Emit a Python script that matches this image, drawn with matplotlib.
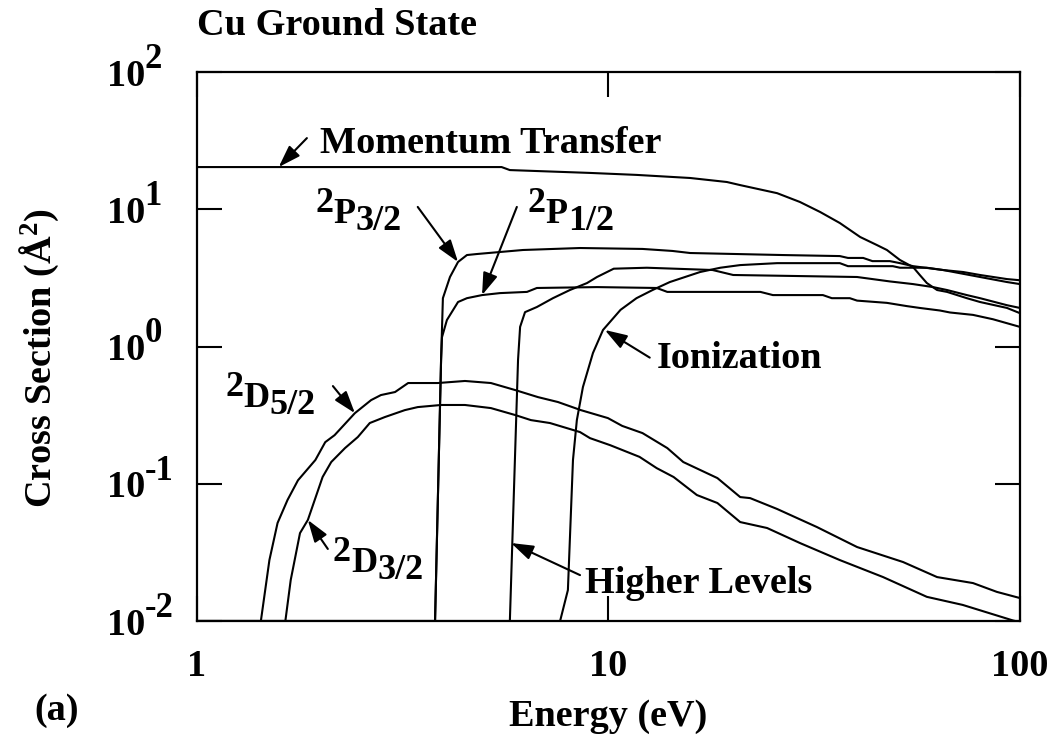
import matplotlib
matplotlib.use('Agg')
import matplotlib.pyplot as plt
from matplotlib.ticker import NullLocator
from matplotlib.transforms import offset_copy, blended_transform_factory

# electron impact cross sections, Cu ground state (energy in eV, cross section in A^2)
mt_e = [1.0, 5.5, 5.76, 9.02, 11.7, 15.8, 19.4, 20.9, 25.7, 29.2, 32.7, 36.5, 40.9, 44.9,
        47.5, 51.1, 55.0, 57.1, 59.4, 62.9, 66.5, 74.3, 80.0, 93.0, 100]
mt_s = [20.3, 20.3, 19.3, 18.4, 17.8, 16.9, 15.8, 15.0, 13.1, 11.3, 9.55, 7.94, 6.28, 5.49,
        5.05, 4.27, 3.79, 3.32, 2.90, 2.58, 2.50, 2.25, 2.11, 1.91, 1.75]

p32_e = [1.0, 3.79, 3.92, 3.96, 4.12, 4.31, 4.53, 4.79, 6.20, 8.53, 12.1, 14.3, 15.8, 26.5,
         36.5, 38.2, 41.6, 43.8, 48.3, 51.1, 55.0, 65.0, 80.0, 93.0, 100]
p32_s = [0.01, 0.01, 0.80, 2.25, 3.21, 4.13, 4.64, 4.72, 5.05, 5.22, 5.14, 4.97, 4.80, 4.64,
         4.56, 4.42, 4.42, 4.19, 4.19, 4.05, 3.85, 3.61, 3.21, 2.95, 2.85]

p12_e = [1.0, 3.79, 3.92, 3.94, 4.05, 4.31, 4.53, 4.93, 5.45, 6.34, 6.70, 9.38, 13.1, 13.9,
         23.4, 25.1, 33.2, 34.9, 38.6, 40.2, 47.5, 53.1, 57.1, 63.9, 67.6, 76.9, 86.0, 100]
p12_s = [0.01, 0.01, 0.80, 1.17, 1.56, 2.11, 2.25, 2.37, 2.45, 2.50, 2.67, 2.71, 2.67, 2.50,
         2.50, 2.37, 2.37, 2.25, 2.25, 2.16, 2.08, 1.97, 1.91, 1.83, 1.77, 1.70, 1.58, 1.39]

hl_e = [1.0, 5.76, 6.03, 6.10, 6.27, 6.70, 7.33, 8.06, 8.87, 9.38, 10.3, 12.4, 17.9, 20.1,
        40.2, 48.3, 55.0, 61.5, 66.5, 74.3, 80.0, 93.0, 100]
hl_s = [0.01, 0.01, 0.80, 1.39, 1.78, 1.94, 2.25, 2.58, 2.90, 3.21, 3.69, 3.75, 3.61, 3.32,
        3.21, 2.98, 2.85, 2.71, 2.58, 2.37, 2.25, 2.00, 1.91]

ion_e = [1.0, 7.63, 7.97, 8.20, 8.38, 8.67, 9.17, 9.70, 10.7, 11.7, 12.8, 14.1, 16.7, 18.7,
         20.9, 25.7, 36.5, 38.2, 49.1, 51.1, 59.4, 65.0, 72.8, 80.0, 93.0, 100]
ion_s = [0.01, 0.01, 0.0168, 0.149, 0.291, 0.507, 0.897, 1.32, 1.85, 2.25, 2.58, 2.95, 3.49,
         3.75, 3.92, 4.05, 4.05, 3.85, 3.85, 3.75, 3.75, 3.61, 3.49, 3.32, 3.10, 3.04]

d52_e = [1.0, 1.43, 1.50, 1.57, 1.66, 1.76, 1.94, 2.05, 2.16, 2.42, 2.65, 2.80, 3.03, 3.26,
         3.85, 4.48, 5.18, 5.93, 6.74, 7.54, 8.57, 9.97, 10.8, 12.1, 13.9, 15.2, 18.4, 20.9,
         22.1, 25.7, 32.1, 40.2, 52.0, 62.9, 76.9, 87.9, 100]
d52_s = [0.01, 0.01, 0.0278, 0.0518, 0.0762, 0.106, 0.149, 0.201, 0.226, 0.327, 0.407, 0.443,
         0.466, 0.542, 0.542, 0.561, 0.542, 0.482, 0.428, 0.394, 0.344, 0.301, 0.264, 0.234,
         0.182, 0.144, 0.110, 0.080, 0.0786, 0.0655, 0.0484, 0.0346, 0.0269, 0.0209, 0.0189,
         0.0163, 0.0147]

d32_e = [1.0, 1.64, 1.69, 1.78, 1.86, 2.02, 2.12, 2.29, 2.46, 2.63, 2.86, 3.20, 3.44, 3.92,
         4.48, 5.18, 5.93, 6.48, 7.21, 8.53, 9.02, 10.1, 11.9, 13.1, 14.4, 16.4, 18.4, 20.9,
         24.3, 29.2, 36.5, 46.5, 59.4, 72.6, 96.1, 100]
d32_s = [0.01, 0.01, 0.0199, 0.0437, 0.0545, 0.112, 0.144, 0.182, 0.219, 0.277, 0.306, 0.344,
         0.362, 0.375, 0.375, 0.356, 0.317, 0.291, 0.277, 0.238, 0.215, 0.191, 0.157, 0.130,
         0.112, 0.0828, 0.0724, 0.0526, 0.0476, 0.0370, 0.0278, 0.0209, 0.0150, 0.0131,
         0.0101, 0.0098]

x_ticks = [1, 10, 100]
x_ticklabels = ['1', '10', '100']
y_exponents = [-2, -1, 0, 1, 2]

FS = 27.5

# Times-like bold everywhere
plt.rcParams['font.family'] = 'Liberation Serif'
plt.rcParams['font.weight'] = 'bold'
plt.rcParams['axes.labelweight'] = 'bold'
plt.rcParams['mathtext.fontset'] = 'custom'
plt.rcParams['mathtext.rm'] = 'Liberation Serif:bold'
plt.rcParams['mathtext.bf'] = 'Liberation Serif:bold'
plt.rcParams['mathtext.it'] = 'Liberation Serif:bold:italic'

fig = plt.figure(figsize=(10.6, 7.44), dpi=100)
ax = fig.add_axes([0.1858, 0.1653, 0.7764, 0.7379])

for e, s in [(mt_e, mt_s), (p32_e, p32_s), (p12_e, p12_s), (hl_e, hl_s),
             (ion_e, ion_s), (d52_e, d52_s), (d32_e, d32_s)]:
    ax.plot(e, s, color='k', lw=1.5)

# axes
ax.set_xscale('log')
ax.set_yscale('log')
ax.set_xlim(1, 100)
ax.set_ylim(0.01, 100)
ax.set_xticks(x_ticks)
ax.set_xticklabels(x_ticklabels)
ax.set_yticks([10.0 ** k for k in y_exponents])
ax.set_yticklabels(['10'] * len(y_exponents))
ax.xaxis.set_minor_locator(NullLocator())
ax.yaxis.set_minor_locator(NullLocator())
ax.tick_params(direction='in', length=18, width=1.5, top=True, right=True, labelsize=FS)
ax.tick_params(axis='x', pad=20)
ax.tick_params(axis='y', pad=65)
for lab in ax.get_yticklabels():
    lab.set_horizontalalignment('left')
for sp in ax.spines.values():
    sp.set_linewidth(1.6)

# decade exponents, written full size like the original
exp_tr = offset_copy(blended_transform_factory(ax.transAxes, ax.transData),
                     fig=fig, x=0, y=3, units='points')
for k in y_exponents:
    ax.text(-0.0635, 10.0 ** k, str(k), fontsize=25, va='baseline', ha='left',
            transform=exp_tr, clip_on=False)

ax.set_xlabel('Energy (eV)', fontsize=FS)
ax.xaxis.set_label_coords(0.5, -0.191)
ax.xaxis.label.set_va('baseline')
ax.set_ylabel('Cross Section (Å$^{2}$)', fontsize=FS)
ax.yaxis.set_label_coords(-0.192, 0.479)
ax.yaxis.label.set_va('center')

fig.text(197 / 1060, 1 - 35 / 744, 'Cu Ground State', fontsize=FS, va='baseline', ha='left')
fig.text(34 / 1060, 1 - 720 / 744, '(a)', fontsize=FS, va='baseline', ha='left')


def arrow(tail, head):
    ax.annotate('', xy=head, xytext=tail,
                arrowprops=dict(arrowstyle='-|>,head_length=0.9,head_width=0.3', color='k',
                                lw=1.5, shrinkA=0, shrinkB=0, mutation_scale=15))


def term(x, y, sup, base, sub, size=26):
    # spectroscopic term symbol drawn as three pieces, all near full size
    r = fig.canvas.get_renderer()
    t = ax.text(x, y, sup, fontsize=size, va='baseline',
                transform=offset_copy(ax.transData, fig=fig, x=0, y=8, units='points'))
    dx = t.get_window_extent(r).width * 72 / fig.dpi
    t = ax.text(x, y, base, fontsize=size, va='baseline',
                transform=offset_copy(ax.transData, fig=fig, x=dx, y=0, units='points'))
    dx += t.get_window_extent(r).width * 72 / fig.dpi
    ax.text(x, y, sub, fontsize=size, va='baseline',
            transform=offset_copy(ax.transData, fig=fig, x=dx, y=-5, units='points'))


ax.text(1.99, 25.7, 'Momentum Transfer', fontsize=FS, va='baseline')
arrow((1.85, 33.0), (1.58, 20.3))
term(1.94, 7.94, '2', 'P', '3/2')
arrow((3.44, 10.4), (4.31, 4.13))
term(6.37, 7.94, '2', 'P', '1/2')
arrow((5.99, 10.4), (4.93, 2.37))
ax.text(13.1, 0.697, 'Ionization', fontsize=FS, va='baseline')
arrow((12.6, 0.83), (9.8, 1.32))
term(1.17, 0.362, '2', 'D', '5/2')
arrow((2.14, 0.515), (2.42, 0.327))
term(2.14, 0.0227, '2', 'D', '3/2')
arrow((2.08, 0.0335), (1.86, 0.0545))
ax.text(8.77, 0.016, 'Higher Levels', fontsize=FS, va='baseline')
arrow((8.53, 0.0216), (5.80, 0.037))

fig.savefig('out.png', dpi=100)
